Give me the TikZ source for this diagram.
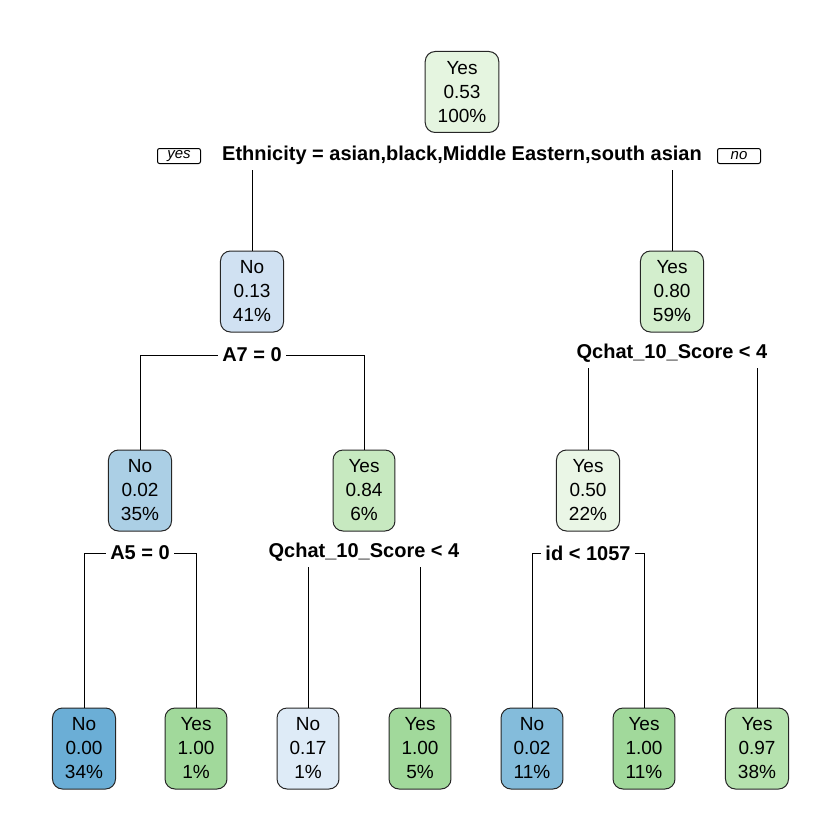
\documentclass[tikz,border=0pt]{standalone}
\usepackage{fontspec}
\setmainfont{Liberation Sans}
\definecolor{cRoot}{HTML}{E5F5E0}
\definecolor{cNtwo}{HTML}{D0E1F2}
\definecolor{cNthree}{HTML}{D3EECD}
\definecolor{cNfour}{HTML}{ABCFE5}
\definecolor{cNfive}{HTML}{C7E9C0}
\definecolor{cNsix}{HTML}{EAF6E6}
\definecolor{cBlueD}{HTML}{6BAED6}
\definecolor{cBlueM}{HTML}{84BCDB}
\definecolor{cBlueL}{HTML}{DEEBF7}
\definecolor{cGreenD}{HTML}{A1D99B}
\definecolor{cGreenM}{HTML}{B5E2AE}
\tikzset{
  treebox/.style={draw=black!85, line width=0.5pt, rounded corners=5pt, align=center,
    font=\fontsize{9.5}{12}\selectfont, minimum height=40.5pt,
    inner xsep=6.25pt, inner ysep=2pt},
  splitlab/.style={font=\bfseries\fontsize{10}{12}\selectfont, inner xsep=2pt, inner ysep=1pt},
  yesno/.style={draw, line width=0.5pt, rounded corners=1pt, font=\itshape\fontsize{7.5}{8}\selectfont,
    minimum width=21.5pt, minimum height=7.5pt, inner sep=0pt},
  edge/.style={draw=black, line width=0.5pt}
}
\begin{document}
\begin{tikzpicture}[x=0.5pt,y=-0.5pt]
\useasboundingbox (0,0) rectangle (840,840);
% internal nodes
\node[treebox, fill=cRoot] (root) at (462,92) {Yes\\0.53\\100\%};
\node[splitlab] (s1) at (462,155) {Ethnicity = asian,black,Middle Eastern,south asian};
\node[yesno] (yes) at (179,156) {yes};
\node[yesno] (no) at (739,156) {no};

\node[treebox, fill=cNtwo] (n2) at (252,291.5) {No\\0.13\\41\%};
\node[splitlab] (s2) at (252,355) {A7 = 0};
\node[treebox, fill=cNthree] (n3) at (672,291.5) {Yes\\0.80\\59\%};
\node[splitlab] (s3) at (672,353) {Qchat\_10\_Score < 4};

\node[treebox, fill=cNfour] (n4) at (140,490.5) {No\\0.02\\35\%};
\node[splitlab] (s4) at (140,553) {A5 = 0};
\node[treebox, fill=cNfive] (n5) at (364,490.5) {Yes\\0.84\\6\%};
\node[splitlab] (s5) at (364,552) {Qchat\_10\_Score < 4};
\node[treebox, fill=cNsix] (n6) at (588,490.5) {Yes\\0.50\\22\%};
\node[splitlab] (s6) at (588,553) {id < 1057};

% leaves
\node[treebox, fill=cBlueD] (l1) at (84,748.5) {No\\0.00\\34\%};
\node[treebox, fill=cGreenD] (l2) at (196,748.5) {Yes\\1.00\\1\%};
\node[treebox, fill=cBlueL] (l3) at (308,748.5) {No\\0.17\\1\%};
\node[treebox, fill=cGreenD] (l4) at (420,748.5) {Yes\\1.00\\5\%};
\node[treebox, fill=cBlueM] (l5) at (532,748.5) {No\\0.02\\11\%};
\node[treebox, fill=cGreenD] (l6) at (644,748.5) {Yes\\1.00\\11\%};
\node[treebox, fill=cGreenM] (l7) at (757,748.5) {Yes\\0.97\\38\%};

% edge start levels
\coordinate (t1) at (0,170);
\coordinate (t3) at (0,368);
\coordinate (t5) at (0,567);

% connectors
\draw[edge] (n2.north |- t1) -- (n2.north);
\draw[edge] (n3.north |- t1) -- (n3.north);
\draw[edge] (s2.west) -| (n4.north);
\draw[edge] (s2.east) -| (n5.north);
\draw[edge] (n6.north |- t3) -- (n6.north);
\draw[edge] (l7.north |- t3) -- (l7.north);
\draw[edge] (s4.west) -| (l1.north);
\draw[edge] (s4.east) -| (l2.north);
\draw[edge] (l3.north |- t5) -- (l3.north);
\draw[edge] (l4.north |- t5) -- (l4.north);
\draw[edge] (s6.west) -| (l5.north);
\draw[edge] (s6.east) -| (l6.north);
\end{tikzpicture}
\end{document}
